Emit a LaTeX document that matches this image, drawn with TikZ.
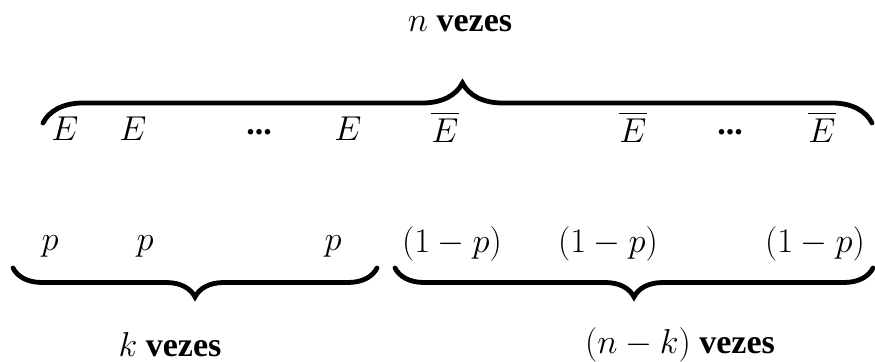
\documentclass[tikz,border=0pt]{standalone}
\usepackage{fontspec}
\setmainfont{Liberation Serif}
\usepackage{amsmath}
\usetikzlibrary{decorations.pathreplacing}

\begin{document}
\begin{tikzpicture}[
    x=0.5pt,
    y=0.5pt,
    font=\fontsize{17}{19}\selectfont,
    lbl/.style={inner sep=0pt, anchor=center},
    brc/.style={decorate, line width=2.4pt, line cap=round},
    top brace/.style={brc, decoration={brace, amplitude=20pt, aspect=0.506}},
    low brace/.style={brc, decoration={brace, mirror, amplitude=14.5pt}}
]
\useasboundingbox (0,0) rectangle (875,362);

% ============================================================
% EVENTOS
% ============================================================
\node[lbl] (e1)  at (65,233)  {$E$};
\node[lbl] (e2)  at (133,233) {$E$};
\node[lbl] (ed1) at (259,230) {\textbf{...}};
\node[lbl] (e3)  at (348,233) {$E$};
\node[lbl] (eb1) at (445,235) {$\overline{E}$};
\node[lbl] (eb2) at (633,235) {$\overline{E}$};
\node[lbl] (ed2) at (730,230) {\textbf{...}};
\node[lbl] (eb3) at (822,235) {$\overline{E}$};

% ============================================================
% PROBABILIDADES
% ============================================================
\node[lbl] (p1) at (50,116)  {$p$};
\node[lbl] (p2) at (145,116) {$p$};
\node[lbl] (p3) at (333,116) {$p$};
\node[lbl] (q1) at (452,118) {$(1-p)$};
\node[lbl] (q2) at (608,118) {$(1-p)$};
\node[lbl] (q3) at (815,118) {$(1-p)$};

% ============================================================
% CHAVES
% ============================================================
\coordinate (tl) at (43,239);
\coordinate (tr) at (872,239);
\coordinate (kl) at (13,94);
\coordinate (kr) at (377,94);
\coordinate (ql) at (395,94);
\coordinate (qr) at (873,94);

\draw[top brace] (tl) -- (tr);
\draw[low brace] (kl) -- (kr);
\draw[low brace] (ql) -- (qr);

\node[lbl] (ntot) at (460,338) {$n$ \textbf{vezes}};
\node[lbl] (ktot) at (170,17)  {$k$ \textbf{vezes}};
\node[lbl] (rtot) at (680,17)  {$(n-k)$ \textbf{vezes}};

\end{tikzpicture}
\end{document}
